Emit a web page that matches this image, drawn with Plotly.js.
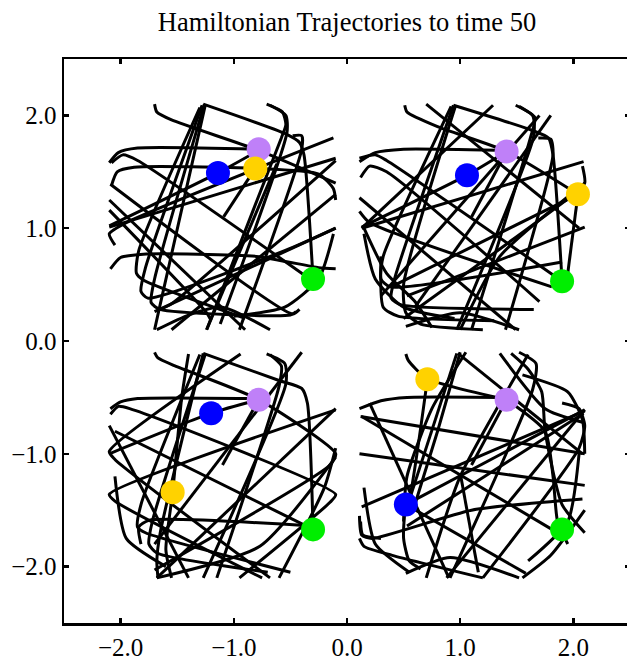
<!DOCTYPE html>
<html>
<head>
<meta charset="utf-8">
<script src="https://cdn.plot.ly/plotly-3.0.1.min.js"></script>
<style>
html,body{margin:0;padding:0;overflow:hidden;background:#fff;}
#chart{width:640px;height:659px;}
</style>
</head>
<body>
<div id="chart"></div>
<script>
// Trajectory polylines (data units), separated by null
const tlX = [
 -2.10,-2.02,-1.85,-0.78, null,
 -2.08,-2.03,-1.88,-0.81,-0.25,-0.12,-0.10, null,
 -0.81,-1.09, null,
 -2.10,-1.14,-0.78, null,
 -1.70,-1.68,-1.55,-0.78,-0.10, null,
 -1.27,-0.55,-0.42,-0.38,-0.30, null,
 -1.26,-1.70,-1.73,-1.65,-0.50,-0.45, null,
 -1.28,-1.78,-1.82,-1.76,-0.55,-0.10, null,
 -1.25,-1.66,-1.70, null,
 -1.30,-1.84,-1.86,-1.80,-0.90, null,
 -0.71,-0.57,-0.54,-0.58,-1.24, null,
 -0.68,-0.54,-0.53,-1.12, null,
 -0.48,-0.40,-0.40,-0.95, null,
 -0.10,-1.55,-1.65, null,
 -0.10,-1.70, null,
 -2.08,-1.98,-1.85,-0.30, null,
 -2.09,-0.48,-0.42, null,
 -2.10,-1.24,-1.20, null,
 -2.10,-0.10, null,
 -1.68,-1.40,-1.10,-0.68, null,
 -2.09,-2.00,-1.80,-0.80,-0.25,-0.10, null,
 -0.62,-1.24, null,
 -2.05,-2.10,-1.95,-0.12, null,
 -1.55,-0.10, null,
 -2.10,-0.90, null,
 -0.12,-0.25,-0.55,-1.00
];
const tlY = [
  1.58, 1.67, 1.71, 1.70, null,
  1.38, 1.50, 1.54, 1.53, 1.48, 1.35, 1.25, null,
  1.53, 1.10, null,
  1.02, 1.49, 1.69, null,
  2.10, 2.03, 1.96, 1.69, 1.40, null,
  2.10, 1.84, 1.76, 1.65, 0.55, null,
  2.10, 0.55, 0.34, 0.28, 0.23, 0.26, null,
  2.09, 0.65, 0.44, 0.38, 0.80, 1.00, null,
  2.10, 0.28, 0.10, null,
  2.07, 0.80, 0.60, 0.54, 0.20, null,
  2.10, 2.03, 1.92, 1.80, 0.10, null,
  2.09, 2.00, 1.85, 0.15, null,
  1.82, 1.82, 1.70, 0.10, null,
  1.60, 0.33, 0.28, null,
  1.00, 0.26, null,
  1.58, 1.65, 1.60, 0.53, null,
  1.39, 0.24, 0.28, null,
  1.16, 0.25, 0.18, null,
  1.01, 1.62, null,
  0.10, 0.23, 0.30, 0.10, null,
  0.64, 0.74, 0.77, 0.75, 0.65, 0.64, null,
  1.57, 0.10, null,
  0.85, 0.95, 1.05, 1.80, null,
  0.10, 1.30, null,
  1.25, 0.10, null,
  0.95, 0.55, 0.30, 0.22
];

const trX = [
  0.11, 0.25, 0.50, 1.32, null,
  0.51, 0.53, 0.80, 1.41, 2.04, null,
  1.41, 1.06, 0.13, null,
  1.41, 1.10, null,
  0.94, 0.42, 0.39, 0.48, 1.65, null,
  0.96, 0.50, 0.52, 0.65, 1.20, null,
  0.92, 0.32, 0.30, 0.38, 1.90, null,
  0.94, 1.60, 1.78, 1.82, 1.90, null,
  1.49, 1.64, 1.65, 0.97, null,
  1.52, 1.66, 1.62, 1.10, null,
  1.69, 1.80, 1.82, 1.40, null,
  1.29, 0.13, null,
  0.11, 0.25, 0.35, 1.90, null,
  2.09, 0.13, null,
  0.11, 1.49, null,
  0.11, 0.20, 1.81, null,
  0.39, 2.04, null,
  0.53, 2.10, null,
  0.52, 1.00, 1.52, null,
  2.04, 1.95, null,
  0.15, 0.35, 0.60, 0.75, null,
  2.10, 1.35, 1.00, null,
  1.80, 0.60, null,
  0.30, 0.32, 0.45, 1.30, null,
  0.12, 0.20, 0.35, 1.70, null,
  2.08, 2.10, 2.00, 0.50, null,
  0.70, 2.05, null,
  1.70, 0.30, null,
  0.15, 0.25, 0.50, 0.95
];
const trY = [
  1.59, 1.67, 1.70, 1.69, null,
  2.09, 2.03, 1.90, 1.68, 1.30, null,
  1.68, 1.47, 1.01, null,
  1.68, 1.10, null,
  2.09, 0.55, 0.38, 0.32, 0.28, null,
  2.09, 0.50, 0.25, 0.15, 0.10, null,
  2.08, 0.75, 0.55, 0.48, 0.70, null,
  2.09, 1.88, 1.80, 1.65, 0.53, null,
  2.09, 2.00, 1.82, 0.10, null,
  2.08, 1.98, 1.80, 0.10, null,
  1.80, 1.79, 1.65, 0.10, null,
  2.09, 1.00, null,
  1.62, 1.65, 1.60, 0.53, null,
  1.59, 1.00, null,
  1.27, 0.10, null,
  1.15, 1.05, 0.48, null,
  0.48, 1.30, null,
  0.40, 1.01, null,
  0.13, 0.25, 0.10, null,
  1.30, 0.60, null,
  1.00, 0.60, 0.35, 0.12, null,
  1.40, 0.75, 0.10, null,
  2.00, 0.30, null,
  0.75, 0.30, 0.22, 0.18, null,
  1.45, 1.55, 1.50, 0.35, null,
  1.55, 1.40, 1.30, 0.20, null,
  2.10, 1.00, null,
  2.00, 0.40, null,
  0.95, 0.55, 0.30, 0.20
];

const blX = [
 -2.09,-2.00,-1.85,-0.85, null,
 -1.70,-1.67,-1.52,-0.78,-0.10,-0.15,-1.70, null,
 -2.10,-1.20,-0.78, null,
 -0.78,-1.10, null,
 -1.27,-1.65,-1.68,-1.67, null,
 -1.25,-1.72,-1.75,-1.68,-0.70, null,
 -1.30,-1.82,-1.85,-1.78,-0.50, null,
 -1.27,-0.60,-0.40,-0.35,-0.30, null,
 -0.71,-0.55,-0.54,-1.27, null,
 -0.68,-0.58,-0.60,-1.15, null,
 -1.40,-1.46,-1.54,-1.60,-1.55, null,
 -0.94,-2.10,-2.05,-0.68, null,
 -0.10,-2.10,-2.05,-0.75, null,
 -2.09,-2.02,-1.92,-0.10,-0.15,-0.95, null,
 -1.82,-1.84,-1.75,-0.30, null,
 -2.05,-0.30, null,
 -0.10,-1.68, null,
 -1.68,-0.77,-0.10, null,
 -0.40,-1.70, null,
 -2.10,-1.40, null,
 -0.60,-0.20,-0.10, null,
 -2.05,-1.95,-1.60
];
const blY = [
 -0.60,-0.54,-0.51,-0.51, null,
 -0.10,-0.15,-0.22,-0.52,-1.00,-1.10,-2.03, null,
 -1.00,-0.64,-0.52, null,
 -0.52,-1.10, null,
 -0.11,-1.70,-1.95,-2.10, null,
 -0.11,-1.60,-1.80,-1.88,-2.05, null,
 -0.12,-1.45,-1.65,-1.70,-2.05, null,
 -0.11,-0.35,-0.42,-0.55,-1.67, null,
 -0.115,-0.20,-0.38,-2.10, null,
 -0.12,-0.22,-0.40,-2.10, null,
 -0.115,-0.50,-1.34,-1.85,-2.10, null,
 -0.115,-0.98,-1.05,-2.10, null,
 -0.61,-1.36,-1.42,-2.10, null,
 -0.65,-0.58,-0.60,-1.36,-1.43,-2.10, null,
 -1.80,-1.65,-1.59,-1.64, null,
 -0.80,-1.67, null,
 -0.60,-2.10, null,
 -2.10,-1.82,-1.03, null,
 -0.10,-1.80, null,
 -0.75,-2.10, null,
 -2.10,-1.30,-0.95, null,
 -1.20,-1.75,-2.00
];

const brX = [
  0.52, 0.54, 0.70, 1.41, null,
  0.11, 0.30, 0.53, 1.35, null,
  1.41, 1.10, null,
  0.71, 0.55, 0.52, 0.50, 0.55, 0.65, null,
  0.52, 2.10, null,
  0.52, 1.58, null,
  0.11, 2.10, null,
  0.12, 2.10, null,
  0.13, 1.81, null,
  1.00, 1.16, null,
  2.10, 0.88, null,
  1.52, 1.67, 1.64, 0.91, null,
  0.52, 0.91, 1.52, null,
  0.53, 2.09, null,
  1.00, 0.80, 0.60, null,
  1.05, 0.75, 0.53, 0.50, null,
  1.41, 1.75, 1.82, 1.86, 1.95, null,
  1.45, 1.60, 1.72, 1.75, 1.90, 2.10, null,
  1.60, 1.00, 0.70, null,
  0.11, 0.15, 0.40, 1.20, null,
  1.55, 1.95, 2.08, 2.10, null,
  0.12, 0.14, 0.30, null,
  0.97, 0.56, null,
  2.10, 0.13, null,
  0.98, 2.08, null,
  1.35, 1.75, 2.08, null,
  1.90, 2.05, 2.10, 2.05, 1.20, null,
  0.11, 0.13, 0.22, 1.10, 2.08, null,
  1.55, 1.80, 2.10, null,
  0.20, 0.90, null,
  0.15, 0.25, 0.55, null,
  2.05, 1.95, 1.60
];
const brY = [
 -0.115,-0.17,-0.33,-0.52, null,
 -0.60,-0.53,-0.50,-0.50, null,
 -0.52,-1.10, null,
 -0.34,-1.40,-1.45,-1.75,-1.95,-2.02, null,
 -1.45,-0.61, null,
 -1.45,-2.06, null,
 -1.00,-1.28, null,
 -0.67,-1.00, null,
 -0.67,-1.67, null,
 -1.17,-2.05, null,
 -0.61,-2.10, null,
 -0.10,-0.20,-0.43,-2.10, null,
 -2.06,-1.92,-2.10, null,
 -1.64,-0.64, null,
 -0.10,-0.80,-1.45, null,
 -0.10,-0.60,-1.20,-1.60, null,
 -0.52,-0.80,-1.20,-1.60,-1.80, null,
 -0.11,-0.25,-0.45,-0.80,-1.45,-1.70, null,
 -0.12,-1.20,-2.10, null,
 -1.75,-1.82,-1.90,-2.10, null,
 -0.30,-0.45,-0.70,-1.00, null,
 -1.60,-1.72,-1.75, null,
 -0.11,-1.38, null,
 -0.62,-1.47, null,
 -0.11,-1.00, null,
 -0.11,-0.60,-0.72, null,
 -0.55,-0.60,-0.75,-0.95,-2.10, null,
 -1.55,-1.72,-1.75,-1.50,-1.40, null,
 -2.10,-1.90,-1.50, null,
 -0.55,-2.10, null,
 -1.30,-1.80,-2.05, null,
 -1.00,-1.60,-1.95
];

// Particle positions (one dot of each colour per panel)
const blueX   = [-1.14, 1.06, -1.20, 0.52];
const blueY   = [ 1.49, 1.47, -0.64,-1.45];
const purpleX = [-0.78, 1.41, -0.78, 1.41];
const purpleY = [ 1.70, 1.68, -0.52,-0.52];
const goldX   = [-0.81, 2.04, -1.54, 0.71];
const goldY   = [ 1.53, 1.30, -1.34,-0.34];
const greenX  = [-0.30, 1.90, -0.30, 1.90];
const greenY  = [ 0.55, 0.53, -1.67,-1.67];

const tickVals = [-2, -1, 0, 1, 2];

const lineStyle = {color: '#000', width: 3, shape: 'spline', smoothing: 0.6};
function traj(x, y) {
  return {x: x, y: y, mode: 'lines', type: 'scatter', line: lineStyle,
          connectgaps: false, hoverinfo: 'skip', showlegend: false};
}
function dots(x, y, c) {
  return {x: x, y: y, mode: 'markers', type: 'scatter',
          marker: {color: c, size: 24, line: {width: 0}}, showlegend: false};
}

const data = [
  traj(tlX, tlY), traj(trX, trY), traj(blX, blY), traj(brX, brY),
  dots(greenX, greenY, '#00ee00'),
  dots(blueX, blueY, '#0000ff'),
  dots(purpleX, purpleY, '#bf80f8'),
  dots(goldX, goldY, '#ffd200')
];

const serif = '"Liberation Serif", "Times New Roman", Times, serif';
const axisCommon = {
  range: [-2.5, 2.5], tickvals: tickVals, tickformat: '.1f',
  showline: true, linecolor: '#000', linewidth: 2.5, mirror: 'ticks',
  ticks: 'inside', ticklen: 5, tickwidth: 2.5, tickcolor: '#000',
  showgrid: false, zeroline: false,
  tickfont: {family: serif, size: 25, color: '#000'}
};

const layout = {
  width: 640, height: 659,
  margin: {l: 64, r: 10, t: 59, b: 36},
  paper_bgcolor: '#fff', plot_bgcolor: '#fff',
  title: {text: 'Hamiltonian Trajectories to time 50', x: 0.5, xref: 'paper',
          y: 0.967, yref: 'container', yanchor: 'middle',
          font: {family: serif, size: 26.5, color: '#000'}},
  xaxis: Object.assign({}, axisCommon),
  yaxis: Object.assign({}, axisCommon),
  showlegend: false
};

Plotly.newPlot('chart', data, layout, {displayModeBar: false, staticPlot: true});
</script>
</body>
</html>
